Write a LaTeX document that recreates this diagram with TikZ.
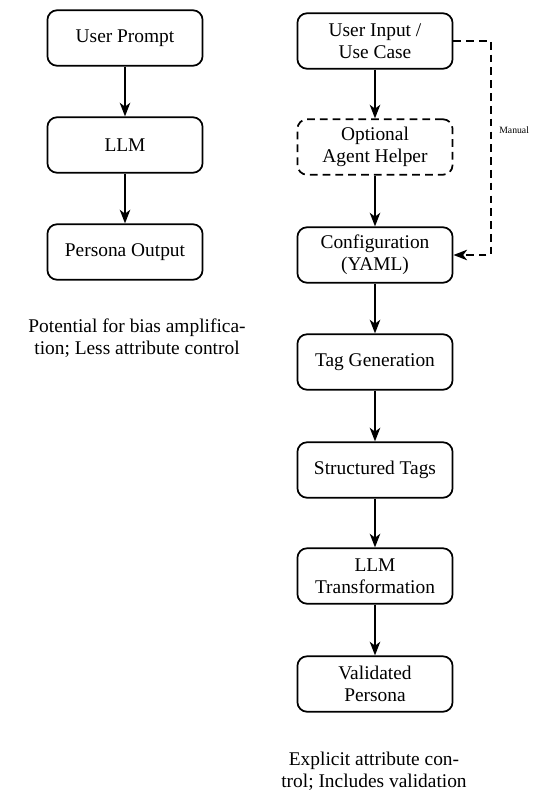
\documentclass[tikz,border=0pt]{standalone}
\usepackage{fontspec}
\setmainfont{Liberation Serif}
\usetikzlibrary{arrows.meta}
\begin{document}
\begin{tikzpicture}[x=0.5155pt,y=-0.5155pt,
  stepbox/.style={draw,line width=0.9pt,rounded corners=5pt,minimum width=80pt,minimum height=28.6pt,align=center,inner sep=2pt,font=\fontsize{10}{11.5}\selectfont},
  optbox/.style={stepbox,dash pattern=on 4pt off 2.6pt},
  flow/.style={line width=0.9pt,-{Stealth[length=7pt,width=5.4pt,inset=2pt]}},
  manualflow/.style={flow,dash pattern=on 4pt off 2.6pt},
  caption/.style={align=center,font=\fontsize{10}{11.5}\selectfont}]
\useasboundingbox (0,0) rectangle (539,791);
% left pipeline
\node[stepbox] (up) at (125,38) {User Prompt};
\node[stepbox] (llm) at (125,145) {LLM};
\node[stepbox] (po) at (125,252) {Persona Output};
\node[caption] (lcap) at (137,338) {Potential for bias amplifica-\\tion; Less attribute control};
\draw[flow] (up) -- (llm);
\draw[flow] (llm) -- (po);
% right pipeline
\node[stepbox] (ui) at (375,41) {User Input /\\Use Case};
\node[optbox] (oah) at (375,147) {Optional\\Agent Helper};
\node[stepbox] (cfg) at (375,255) {Configuration\\(YAML)};
\node[stepbox] (tg) at (375,362) {Tag Generation};
\node[stepbox] (st) at (375,470) {Structured Tags};
\node[stepbox] (lt) at (375,576) {LLM\\Transformation};
\node[stepbox] (vp) at (375,684) {Validated\\Persona};
\node[caption] (rcap) at (374,771) {Explicit attribute con-\\trol; Includes validation};
\draw[flow] (ui) -- (oah);
\draw[flow] (oah) -- (cfg);
\draw[flow] (cfg) -- (tg);
\draw[flow] (tg) -- (st);
\draw[flow] (st) -- (lt);
\draw[flow] (lt) -- (vp);
\coordinate (mtop) at (491,41);
\coordinate (mbot) at (491,255);
\draw[manualflow] (ui.east) -- (mtop) -- (mbot) -- (cfg.east);
\node[anchor=west,font=\tiny,inner sep=1pt] (mlab) at (497,130) {Manual};
\end{tikzpicture}
\end{document}
